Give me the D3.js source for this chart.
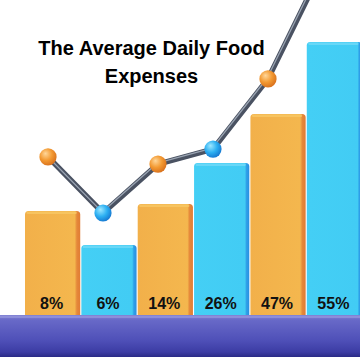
<!DOCTYPE html>
<html>
<head>
<meta charset="utf-8">
<script src="https://cdn.jsdelivr.net/npm/d3@7"></script>
<style>
  body { margin: 0; background: #fff; }
  svg { display: block; }
</style>
</head>
<body>
<div id="chart"></div>
<script>
// values
var labels = ["8%", "6%", "14%", "26%", "47%", "55%"];
var barLevels = [34.7, 23.3, 37, 50.7, 67, 91];      // bar heights, 0-100 index
var lineLevels = [52.7, 34, 50.3, 55.3, 78.7, 116];  // trend line, same index
var titleLines = ["The Average Daily Food", "Expenses"];

var W = 360, H = 360;
var baseTop = 315;

var svg = d3.select('#chart').append('svg')
    .attr('width', W)
    .attr('height', H);

var colors = {
    orange: '#f4b54b',
    orangeTop: '#f8c865',
    orangeSide: '#e5883a',
    blue: '#43cdf4',
    blueTop: '#72daf8',
    blueSide: '#2e9fe8',
    line: '#4a5262',
    lineHi: '#9aa4b2'
};

var defs = svg.append('defs');

// base gradient
var gBase = defs.append('linearGradient').attr('id', 'baseGrad')
    .attr('x1', 0).attr('y1', 0).attr('x2', 0).attr('y2', 1);
gBase.append('stop').attr('offset', '0%').attr('stop-color', '#8586d6');
gBase.append('stop').attr('offset', '12%').attr('stop-color', '#6869c8');
gBase.append('stop').attr('offset', '60%').attr('stop-color', '#4f50b8');
gBase.append('stop').attr('offset', '88%').attr('stop-color', '#3c3ca4');
gBase.append('stop').attr('offset', '100%').attr('stop-color', '#2a2a86');

// bar gradients
var gOr = defs.append('linearGradient').attr('id', 'orGrad')
    .attr('x1', 0).attr('y1', 0).attr('x2', 1).attr('y2', 0);
gOr.append('stop').attr('offset', '0%').attr('stop-color', '#f2b04a');
gOr.append('stop').attr('offset', '90%').attr('stop-color', '#f4b74e');
gOr.append('stop').attr('offset', '94%').attr('stop-color', colors.orangeSide);
gOr.append('stop').attr('offset', '100%').attr('stop-color', '#e07c34');

var gBl = defs.append('linearGradient').attr('id', 'blGrad')
    .attr('x1', 0).attr('y1', 0).attr('x2', 1).attr('y2', 0);
gBl.append('stop').attr('offset', '0%').attr('stop-color', '#44cff5');
gBl.append('stop').attr('offset', '92%').attr('stop-color', '#42ccf4');
gBl.append('stop').attr('offset', '95%').attr('stop-color', colors.blueSide);
gBl.append('stop').attr('offset', '100%').attr('stop-color', '#2a8fe0');

// spheres
function sphereGrad(id, c0, c1, c2) {
    var g = defs.append('radialGradient').attr('id', id)
        .attr('cx', '40%').attr('cy', '38%').attr('r', '65%')
        .attr('fx', '35%').attr('fy', '30%');
    g.append('stop').attr('offset', '0%').attr('stop-color', c0);
    g.append('stop').attr('offset', '55%').attr('stop-color', c1);
    g.append('stop').attr('offset', '100%').attr('stop-color', c2);
}
sphereGrad('sphOr', '#ffd79a', '#f39a32', '#d8701c');
sphereGrad('sphBl', '#9ee8ff', '#2db0f2', '#1577d0');

// scales
var x = d3.scaleBand()
    .domain(d3.range(labels.length))
    .range([25, 362])
    .paddingInner(0.02);

var y = d3.scaleLinear()
    .domain([0, 100])
    .range([baseTop, 15]);

var xLine = d3.scaleLinear()
    .domain([0, lineLevels.length - 1])
    .range([48, 323]);

function isBlue(i) { return i % 2 == 1; }

// title
var title = svg.append('text')
    .attr('x', 151.5)
    .attr('y', 55)
    .attr('text-anchor', 'middle')
    .style('font-family', 'Liberation Sans, Arial, sans-serif')
    .style('font-weight', 'bold')
    .style('font-size', '20px')
    .attr('fill', '#000');
titleLines.forEach(function (t, i) {
    title.append('tspan')
        .attr('x', 151.5)
        .attr('dy', i == 0 ? 0 : 28)
        .text(t);
});

// trend line (drawn under the bars)
var line = d3.line()
    .x(function (d, i) { return xLine(i); })
    .y(function (d) { return y(d); });

svg.append('path')
    .attr('d', line(lineLevels))
    .attr('fill', 'none')
    .attr('stroke', colors.line)
    .attr('stroke-width', 5.5)
    .attr('stroke-linejoin', 'round')
    .attr('stroke-linecap', 'round');
svg.append('path')
    .attr('d', line(lineLevels))
    .attr('transform', 'translate(-0.8,-0.9)')
    .attr('fill', 'none')
    .attr('stroke', colors.lineHi)
    .attr('stroke-width', 1.3)
    .attr('stroke-linejoin', 'round');

// bars
var bars = svg.append('g').selectAll('g')
    .data(barLevels)
    .join('g');

bars.append('rect')
    .attr('x', function (d, i) { return x(i); })
    .attr('y', function (d) { return y(d); })
    .attr('width', x.bandwidth())
    .attr('height', function (d) { return baseTop + 8 - y(d); })
    .attr('rx', 3.5)
    .attr('fill', function (d, i) { return isBlue(i) ? 'url(#blGrad)' : 'url(#orGrad)'; });

// lighter top edge
bars.append('rect')
    .attr('x', function (d, i) { return x(i) + 1.5; })
    .attr('y', function (d) { return y(d) + 0.5; })
    .attr('width', x.bandwidth() - 5)
    .attr('height', 2.5)
    .attr('rx', 1.2)
    .attr('fill', function (d, i) { return isBlue(i) ? colors.blueTop : colors.orangeTop; })
    .attr('opacity', 0.8);

// points on the line
svg.append('g').selectAll('circle')
    .data(lineLevels.slice(0, 5))
    .join('circle')
    .attr('cx', function (d, i) { return xLine(i); })
    .attr('cy', function (d) { return y(d); })
    .attr('r', 8.6)
    .attr('fill', function (d, i) { return isBlue(i) ? 'url(#sphBl)' : 'url(#sphOr)'; });

// base platform
svg.append('rect')
    .attr('x', -6)
    .attr('y', baseTop)
    .attr('width', W + 12)
    .attr('height', 42)
    .attr('rx', 5)
    .attr('fill', 'url(#baseGrad)');
svg.append('rect')
    .attr('x', -6)
    .attr('y', baseTop + 1)
    .attr('width', W + 12)
    .attr('height', 2)
    .attr('fill', '#9b9be0')
    .attr('opacity', 0.6);

// value labels
svg.append('g').selectAll('text')
    .data(labels)
    .join('text')
    .attr('x', function (d, i) { return x(i) + x.bandwidth() / 2 - 1; })
    .attr('y', 309)
    .attr('text-anchor', 'middle')
    .style('font-family', 'Liberation Sans, Arial, sans-serif')
    .style('font-weight', 'bold')
    .style('font-size', '16px')
    .attr('fill', '#111')
    .text(function (d) { return d; });
</script>
</body>
</html>
